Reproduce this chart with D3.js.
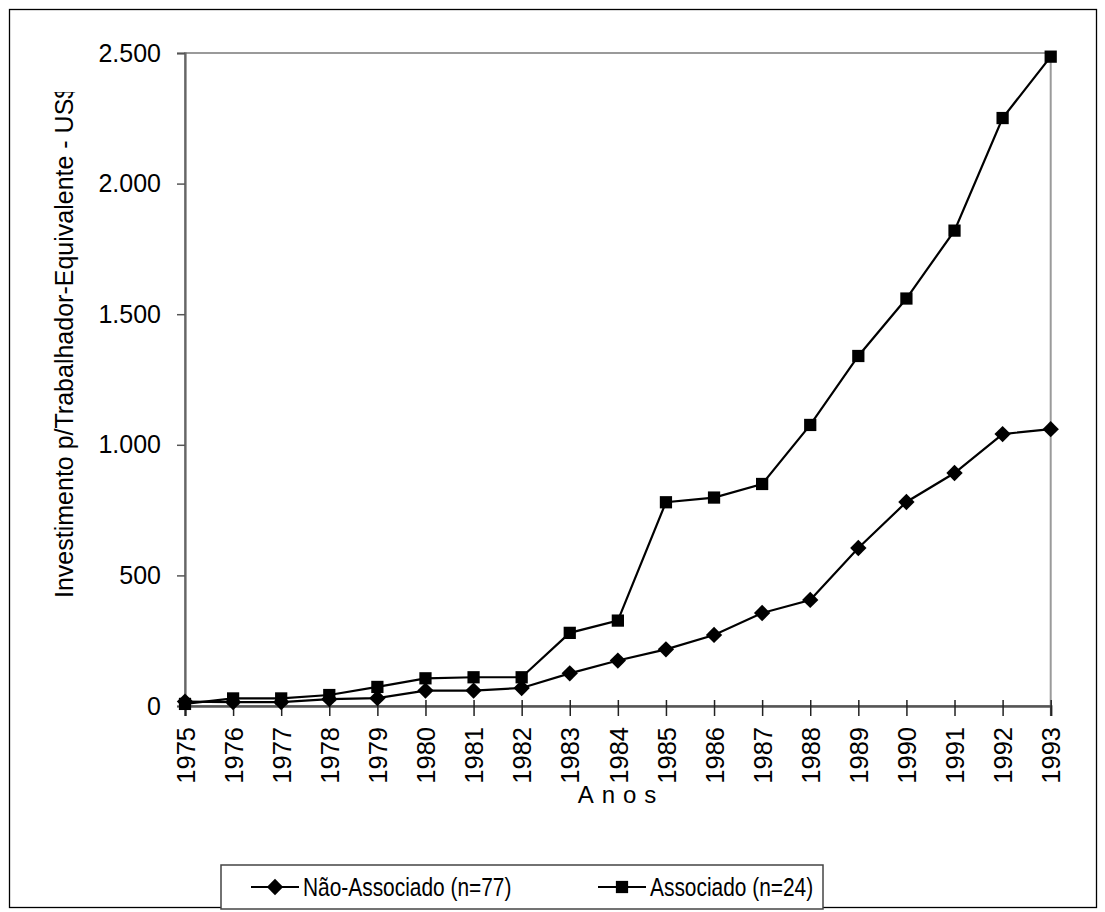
<!DOCTYPE html>
<html>
<head>
<meta charset="utf-8">
<script src="https://cdn.jsdelivr.net/npm/d3@7"></script>
<style>
  html, body { margin: 0; padding: 0; background: #fff; }
  svg { display: block; font-family: "Liberation Sans", Arial, sans-serif; }
</style>
</head>
<body>
<svg id="chart" width="1105" height="912"></svg>
<script>
// Investment per equivalent worker (US$), 1975-1993
const years = [1975, 1976, 1977, 1978, 1979, 1980, 1981, 1982, 1983, 1984,
               1985, 1986, 1987, 1988, 1989, 1990, 1991, 1992, 1993];
const naoAssociado = [17, 15, 15, 26, 30, 59, 59, 69, 125, 174,
                      217, 272, 356, 406, 605, 781, 892, 1041, 1060];
const associado = [8, 29, 29, 42, 73, 106, 110, 110, 280, 327,
                   780, 798, 850, 1076, 1340, 1560, 1820, 2251, 2486];
const yTicks = [0, 500, 1000, 1500, 2000, 2500];
const seriesNames = ["Não-Associado (n=77)", "Associado (n=24)"];

const svg = d3.select("#chart");
const plot = { left: 185, right: 1050.7, top: 53, bottom: 706 };

const x = d3.scalePoint().domain(years).range([plot.left, plot.right]);
const y = d3.scaleLinear().domain([0, 2500]).range([plot.bottom, plot.top]);

const ptBR = d3.formatLocale({ decimal: ",", thousands: ".", grouping: [3], currency: ["US$", ""] });
const fmt = ptBR.format(",d");

// outer frame
svg.append("rect")
  .attr("x", 9.5).attr("y", 9.5)
  .attr("width", 1087).attr("height", 898)
  .attr("fill", "#fff").attr("stroke", "#000").attr("stroke-width", 1.3);

// plot area frame (top & right in grey)
svg.append("rect")
  .attr("x", plot.left).attr("y", plot.top)
  .attr("width", plot.right - plot.left).attr("height", plot.bottom - plot.top)
  .attr("fill", "#fff").attr("stroke", "#9a9a9a").attr("stroke-width", 2);

// y axis
const yAxis = svg.append("g")
  .attr("transform", `translate(${plot.left},0)`)
  .call(d3.axisLeft(y).tickValues(yTicks).tickFormat(fmt).tickSize(8).tickPadding(16));
yAxis.select(".domain").attr("stroke", "#666").attr("stroke-width", 2.2);
yAxis.selectAll(".tick line").attr("stroke", "#555").attr("stroke-width", 1.5);
yAxis.selectAll(".tick text")
  .attr("font-size", 25).attr("fill", "#000")
  .attr("font-family", "Liberation Sans, Arial, sans-serif");

// x axis
const xAxis = svg.append("g")
  .attr("transform", `translate(0,${plot.bottom})`)
  .call(d3.axisBottom(x).tickSize(10).tickPadding(0));
xAxis.select(".domain").attr("stroke", "#555").attr("stroke-width", 2.6);
xAxis.selectAll(".tick line")
  .attr("y1", -6).attr("y2", 10)
  .attr("stroke", "#222").attr("stroke-width", 1.5);
xAxis.selectAll(".tick text")
  .attr("font-size", 25.5).attr("fill", "#000")
  .attr("font-family", "Liberation Sans, Arial, sans-serif")
  .attr("transform", "rotate(-90)")
  .attr("x", -21).attr("y", 0).attr("dy", "0.36em")
  .attr("text-anchor", "end");

// axis titles
svg.append("defs").append("clipPath").attr("id", "ytitle-clip")
  .append("rect").attr("x", 30).attr("y", 92).attr("width", 60).attr("height", 560);
svg.append("g")
  .attr("clip-path", "url(#ytitle-clip)")
  .append("text")
  .attr("transform", "translate(73,598) rotate(-90)")
  .attr("font-size", 25)
  .text("Investimento p/Trabalhador-Equivalente - US$");

svg.append("text")
  .attr("x", 621).attr("y", 803)
  .attr("text-anchor", "middle")
  .attr("font-size", 24)
  .attr("letter-spacing", 8)
  .text("Anos");

// series
const line = d3.line().x((d, i) => x(years[i])).y(d => y(d));
const diamond = d3.symbol().type(d3.symbolDiamond2).size(170);
const square = d3.symbol().type(d3.symbolSquare).size(150);

function drawSeries(values, sym) {
  const g = svg.append("g");
  g.append("path").datum(values)
    .attr("d", line).attr("fill", "none")
    .attr("stroke", "#000").attr("stroke-width", 2.2);
  g.selectAll("path.m").data(values).join("path")
    .attr("class", "m")
    .attr("d", sym)
    .attr("transform", (d, i) => `translate(${x(years[i])},${y(d)})`)
    .attr("fill", "#000");
}
drawSeries(associado, square);
drawSeries(naoAssociado, diamond);

// legend (narrow lettering)
const lg = svg.append("g");
lg.append("rect")
  .attr("x", 221).attr("y", 865).attr("width", 602).attr("height", 44)
  .attr("fill", "#fff").attr("stroke", "#444").attr("stroke-width", 1.5);
const items = [
  { name: seriesNames[0], sym: diamond, x0: 251 },
  { name: seriesNames[1], sym: square, x0: 598 }
];
items.forEach(it => {
  lg.append("line")
    .attr("x1", it.x0).attr("x2", it.x0 + 48)
    .attr("y1", 887).attr("y2", 887)
    .attr("stroke", "#000").attr("stroke-width", 2.2);
  lg.append("path")
    .attr("d", it.sym)
    .attr("transform", `translate(${it.x0 + 24},887)`);
  lg.append("text")
    .attr("transform", `translate(${it.x0 + 52},896) scale(0.82,1)`)
    .attr("font-size", 25.5)
    .text(it.name);
});
</script>
</body>
</html>
